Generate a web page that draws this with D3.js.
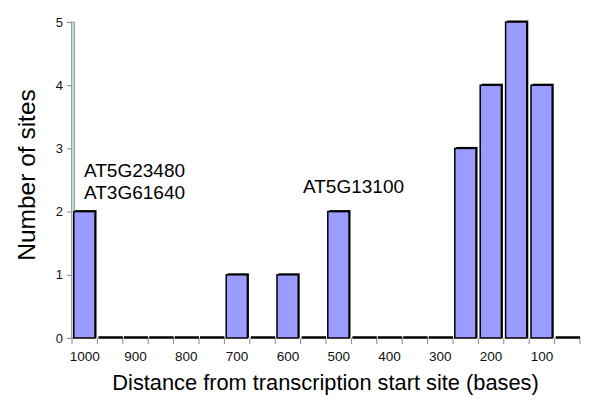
<!DOCTYPE html>
<html><head><meta charset="utf-8">
<script src="https://cdn.jsdelivr.net/npm/d3@7"></script>
<style>body{margin:0;background:#fff}svg{display:block}</style>
</head><body>
<script>
const bins = [1000,950,900,850,800,750,700,650,600,550,500,450,400,350,300,250,200,150,100,50];
const counts = [2,0,0,0,0,0,1,0,1,0,2,0,0,0,0,3,4,5,4,0];
const yTicks = [0,1,2,3,4,5];
const W=600,H=406;
const svg=d3.select("body").append("svg").attr("width",W).attr("height",H)
  .style("font-family","'Liberation Sans', Arial, sans-serif");
const x=d3.scaleBand().domain(bins).range([72,580]).padding(0);
const y=d3.scaleLinear().domain([0,5]).range([338,22]);
const bw=x.bandwidth();

// y axis
const ya=svg.append("g").attr("transform","translate(72,0)")
  .call(d3.axisLeft(y).tickValues(yTicks).tickFormat(d3.format("d")).tickSize(5).tickSizeOuter(0).tickPadding(4));
ya.select(".domain").remove();
ya.selectAll(".tick line").attr("stroke","#888");
ya.selectAll(".tick text").attr("font-size",13).attr("fill","#111");
svg.append("rect").attr("x",71.5).attr("y",y(5)).attr("width",3).attr("height",y(0)-y(5))
  .attr("fill","#c9d6d6").attr("stroke","#6e8888").attr("stroke-width",0.7);

// x ticks at band edges
const edges=d3.range(bins.length+1).map(i=>72+i*bw);
svg.append("g").selectAll("line").data(edges).join("line")
  .attr("x1",d=>d).attr("x2",d=>d).attr("y1",y(0)).attr("y2",y(0)+6)
  .attr("stroke","#888").attr("stroke-width",1);
const xa=svg.append("g").attr("transform",`translate(0,${y(0)})`)
  .call(d3.axisBottom(x).tickSize(0).tickPadding(13).tickFormat(d=>d%100===0?d:""));
xa.select(".domain").remove();
xa.selectAll(".tick text").attr("font-size",13.5).attr("fill","#111");

// bars
const data=bins.map((b,i)=>({bin:b,v:counts[i]}));
const g=svg.append("g");
data.forEach(d=>{
  const x0=x(d.bin);
  if(d.v===0){
    g.append("line").attr("x1",x0+1).attr("x2",x0+bw).attr("y1",y(0)-0.5).attr("y2",y(0)-0.5)
      .attr("stroke","#000").attr("stroke-width",2.5);
  } else {
    const bx=x0+1.8, bwid=bw-4.2, top=y(d.v);
    g.append("rect").attr("x",bx+1.5).attr("y",top-1.5).attr("width",bwid).attr("height",y(0)-top+1.5)
      .attr("fill","#000");
    g.append("rect").attr("x",bx).attr("y",top).attr("width",bwid).attr("height",y(0)-top)
      .attr("fill","#9a9cff").attr("stroke","#000").attr("stroke-width",1.5);
  }
});

// annotations
svg.append("text").attr("x",84).attr("y",177).attr("font-size",19).text("AT5G23480");
svg.append("text").attr("x",84).attr("y",199).attr("font-size",19).text("AT3G61640");
svg.append("text").attr("x",303).attr("y",193).attr("font-size",19).text("AT5G13100");

// axis titles
svg.append("text").attr("transform","translate(35,175) rotate(-90)").attr("text-anchor","middle")
  .attr("font-size",24.5).text("Number of sites");
svg.append("text").attr("x",325.5).attr("y",390).attr("text-anchor","middle")
  .attr("font-size",21.8).text("Distance from transcription start site (bases)");
</script>
</body></html>
